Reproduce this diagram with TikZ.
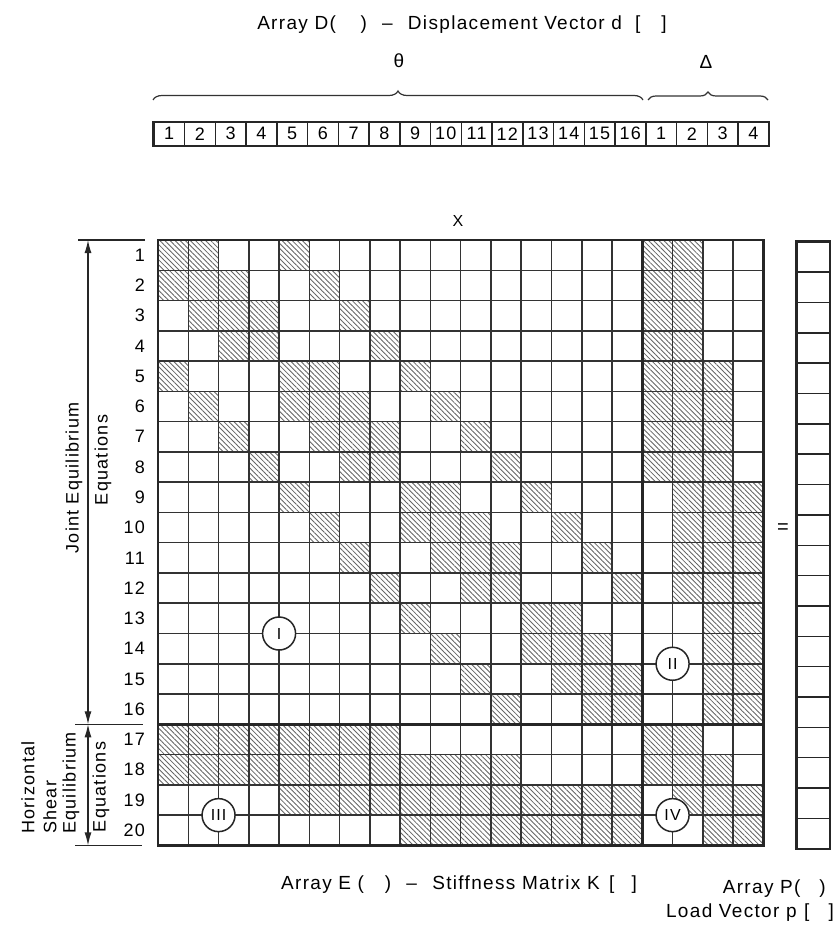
\documentclass[tikz,border=0pt]{standalone}
\usepackage{fontspec}
\setmainfont{Liberation Sans}
\newfontfamily\lbl[LetterSpace=7]{Liberation Sans}
\usetikzlibrary{patterns.meta,decorations.pathreplacing,arrows.meta}
\begin{document}
\begin{tikzpicture}[x=1pt,y=-1pt,
  gridline/.style={line width=1.5pt,draw=black!80},
  heavy/.style={line width=2.8pt,draw=black!85},
  hatch/.style={pattern={Lines[angle=-45,distance=3.6pt,line width=0.85pt]},pattern color=black!60},
  num/.style={font=\fontsize{18}{18}\selectfont\lbl,inner sep=0pt},
  lab/.style={font=\fontsize{19}{22}\selectfont\lbl,inner sep=0pt},
  side/.style={font=\fontsize{18}{20}\selectfont\lbl,inner sep=0pt},
  roman/.style={circle,draw=black!85,line width=1.5pt,fill=white,minimum size=33pt,inner sep=0pt,font=\fontsize{16}{16}\selectfont\lbl},
  vbox/.style={draw=black!85,line width=1.5pt,minimum width=30.75pt,minimum height=23pt,inner sep=0pt,anchor=north west},
  tickline/.style={line width=1.4pt,draw=black!85},
  dimarrow/.style={{Latex[length=13pt,width=7pt]}-{Latex[length=13pt,width=7pt]},line width=1.2pt,draw=black!85},
  bracebar/.style={decorate,line width=1.2pt,draw=black!80}
]
\useasboundingbox (0,0) rectangle (836,931);
\fill[white] (0,0) rectangle (836,931);
\def\L{158}\def\T{240}\def\c{30.27}
\def\VL{153}\def\vc{30.75}

% hatched cells of the stiffness matrix
\foreach \r/\cols in {
 1/{1,2,5,17,18},
 2/{1,2,3,6,17,18},
 3/{2,3,4,7,17,18},
 4/{3,4,8,17,18},
 5/{1,5,6,9,17,18,19},
 6/{2,5,6,7,10,17,18,19},
 7/{3,6,7,8,11,17,18,19},
 8/{4,7,8,12,17,18,19},
 9/{5,9,10,13,18,19,20},
 10/{6,9,10,11,14,18,19,20},
 11/{7,10,11,12,15,18,19,20},
 12/{8,11,12,16,18,19,20},
 13/{9,13,14,19,20},
 14/{10,13,14,15,19,20},
 15/{11,14,15,16,19,20},
 16/{12,15,16,19,20},
 17/{1,2,3,4,5,6,7,8,17,18},
 18/{1,2,3,4,5,6,7,8,9,10,11,12,17,18,19},
 19/{5,6,7,8,9,10,11,12,13,14,15,16,18,19,20},
 20/{9,10,11,12,13,14,15,16,19,20}}{
  \foreach \k in \cols {
    \path[hatch] ({\L+(\k-1)*\c},{\T+(\r-1)*\c}) rectangle ({\L+\k*\c},{\T+\r*\c});
  }
}
% grid
\foreach \i in {1,...,19}{
  \draw[gridline] ({\L+\i*\c},\T) -- ({\L+\i*\c},{\T+20*\c});
  \draw[gridline] (\L,{\T+\i*\c}) -- ({\L+20*\c},{\T+\i*\c});
}
\coordinate (Mtl) at (\L,\T);
\coordinate (Mbr) at ({\L+20*\c},{\T+20*\c});
\coordinate (Vt) at ({\L+16*\c},\T);
\coordinate (Vb) at ({\L+16*\c},{\T+20*\c});
\coordinate (Hl) at (\L,{\T+16*\c});
\coordinate (Hr) at ({\L+20*\c},{\T+16*\c});
\draw[heavy] (Vt) -- (Vb);
\draw[heavy] (Hl) -- (Hr);
\draw[heavy] (Mtl) rectangle (Mbr);

% submatrix labels
\node[roman] (cI) at ({\L+4*\c},{\T+13*\c}) {I};
\node[roman] (cII) at ({\L+17*\c},{\T+14*\c}) {II};
\node[roman] (cIII) at ({\L+2*\c},{\T+19*\c}) {III};
\node[roman] (cIV) at ({\L+17*\c},{\T+19*\c}) {IV};

% row numbers
\foreach \i in {1,...,20}
  \node[num,anchor=east] (r\i) at (145,{\T+(\i-0.5)*\c}) {\i};

% displacement vector
\foreach \lab [count=\n] in {1,2,3,4,5,6,7,8,9,10,11,12,13,14,15,16,1,2,3,4}
  \node[vbox,num] (v\n) at ({\VL+(\n-1)*\vc},121.5) {\lab};
\draw[line width=1.8pt,draw=black!85] (v1.north west) rectangle (v20.south east);

% braces
\coordinate (b1) at (\VL,100);
\coordinate (b2) at ({\VL+16*\vc-2},100);
\coordinate (b3) at ({\VL+16*\vc+3},100);
\coordinate (b4) at ({\VL+20*\vc},100);
\draw[bracebar,decoration={brace,amplitude=9pt}] (b1) -- (b2);
\draw[bracebar,decoration={brace,amplitude=8pt}] (b3) -- (b4);
\node[lab] (theta) at (399,61) {θ};
\node[lab] (delta) at (706,62) {Δ};

% titles
\node[lab] (title) at (462,25) {Array D(\hspace{1.3em})\hspace{0.8em}–\hspace{0.8em}Displacement Vector d\hspace{0.7em}[\hspace{1.1em}]};
\node[font=\fontsize{16}{16}\selectfont\lbl,inner sep=0pt] (times) at (458,221) {X};
\node[font=\fontsize{20}{20}\selectfont,inner sep=0pt] (equals) at (783,529) {=};

% load vector
\foreach \i in {1,...,20}
  \node[draw=black!85,line width=1.5pt,minimum width=33pt,minimum height=30.35pt,inner sep=0pt,anchor=north west] (p\i) at (796,{241+(\i-1)*30.35}) {};
\draw[line width=1.8pt,draw=black!85] (p1.north west) rectangle (p20.south east);

% bottom labels
\node[lab] (klab) at (459,885) {Array E (\hspace{1.1em})\hspace{0.8em}–\hspace{0.8em}Stiffness Matrix K\hspace{0.5em}[\hspace{0.9em}]};
\node[lab,anchor=east] (plab1) at (826,889) {Array P(\hspace{1em})};
\node[lab,anchor=east] (plab2) at (834,913) {Load Vector p\hspace{0.4em}[\hspace{1em}]};

% left annotations
\coordinate (t1a) at (78,240);  \coordinate (t1b) at (145,240);
\coordinate (t2a) at (75,{\T+16*\c}); \coordinate (t2b) at (143,{\T+16*\c});
\coordinate (t3a) at (75,{\T+20*\c}); \coordinate (t3b) at (142,{\T+20*\c});
\draw[tickline] (t1a) -- (t1b);
\draw[tickline] (t2a) -- (t2b);
\draw[tickline] (t3a) -- (t3b);
\coordinate (a1) at (88,240);
\coordinate (a2) at (88,{\T+16*\c});
\coordinate (a3) at (88,{\T+20*\c});
\draw[dimarrow] (a1) -- (a2);
\draw[dimarrow] (a2) -- (a3);
\node[side,rotate=90] (je) at (74,478) {Joint Equilibrium};
\node[side,rotate=90] (jeq) at (103,460) {Equations};
\node[side,rotate=90,anchor=west] (hs1) at (28,834) {Horizontal};
\node[side,rotate=90,anchor=west] (hs2) at (50,834) {Shear};
\node[side,rotate=90,anchor=west] (hs3) at (71,834) {Equilibrium};
\node[side,rotate=90] (hseq) at (101,787) {Equations};
\end{tikzpicture}
\end{document}
